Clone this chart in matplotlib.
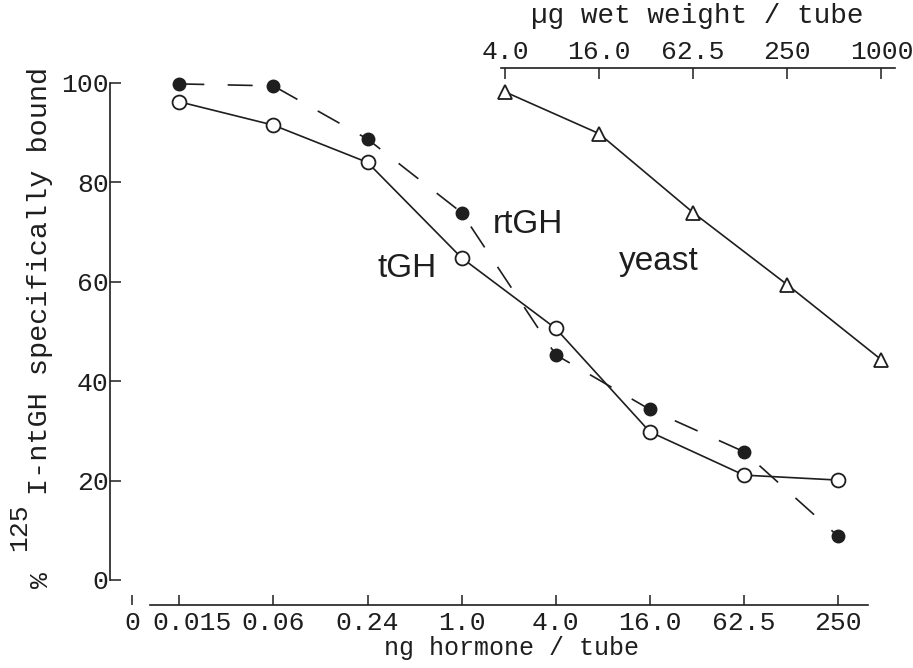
import matplotlib
matplotlib.use('Agg')
import matplotlib.pyplot as plt
import matplotlib.transforms as mtransforms
from matplotlib.ticker import NullLocator

# ---- data ----
dose_ng = [1/64, 1/16, 1/4, 1, 4, 16, 64, 256]
dose_labels = ["0.015", "0.06", "0.24", "1.0", "4.0", "16.0", "62.5", "250"]
rtgh = [99.8, 99.4, 88.7, 73.9, 45.3, 34.3, 25.8, 8.8]
tgh = [96.2, 91.5, 84.0, 64.8, 50.6, 29.8, 21.1, 20.1]
yeast_ug = [4, 16, 64, 256, 1024]
yeast_labels = ["4.0", "16.0", "62.5", "250", "1000"]
yeast = [98.2, 89.8, 73.9, 59.4, 44.3]
yticks = [0, 20, 40, 60, 80, 100]

# ---- style ----
MONO = 'Liberation Mono'
SANS = 'Liberation Sans'
INK = '#1e1e1e'
plt.rcParams['font.family'] = [MONO, 'DejaVu Sans']
FS = 19

W, H = 913, 668
fig = plt.figure(figsize=(W / 100, H / 100), dpi=100)


def fx(x):
    return x / W


def fy(y):
    return 1 - y / H


ax = fig.add_axes([fx(110), fy(605), fx(895) - fx(110), fy(68) - fy(605)])
XLO, XHI = 0.005627, 591.9
K = 2.114  # ug wet weight per ng scale offset
ax.set_xscale('log', base=4)
ax.set_xlim(XLO, XHI)
ax.set_ylim(-5.03, 103.0)

ax2 = ax.twiny()
ax2.set_xscale('log', base=4)
ax2.set_xlim(XLO * K, XHI * K)

for s in ['top', 'right']:
    ax.spines[s].set_visible(False)
for s in ['bottom', 'left', 'right']:
    ax2.spines[s].set_visible(False)
for sp in list(ax.spines.values()) + list(ax2.spines.values()):
    sp.set_color(INK)
    sp.set_linewidth(1.2)
ax.spines['left'].set_bounds(0, 100)
ax.spines['bottom'].set_bounds(0.01014, 397)
ax2.spines['top'].set_bounds(3.75, 1249)

# bottom ticks
ZERO_POS = 0.00777
ax.set_xticks([ZERO_POS] + dose_ng)
ax.set_xticklabels(["0"] + dose_labels)
ax.xaxis.set_minor_locator(NullLocator())
ax.tick_params(axis='x', direction='in', length=7, width=1.1, pad=4,
               labelsize=FS, colors=INK)
# nudge the crowded first label right, as in the original
lbl = ax.get_xticklabels()[1]
lbl.set_transform(lbl.get_transform() +
                  mtransforms.ScaledTranslation(13 / 100, 0, fig.dpi_scale_trans))
# left ticks
ax.set_yticks(yticks)
ax.set_yticklabels([str(v) for v in yticks])
ax.tick_params(axis='y', direction='in', length=8, width=1.1, pad=1,
               labelsize=FS, colors=INK)
# top ticks
ax2.set_xticks(yeast_ug)
ax2.set_xticklabels(yeast_labels)
ax2.xaxis.set_minor_locator(NullLocator())
ax2.tick_params(axis='x', direction='in', length=8, width=1.1, pad=3,
                labelsize=FS, colors=INK)

# ---- series ----
ax.plot(dose_ng, tgh, '-', color=INK, lw=1.2, marker='o', ms=10,
        mfc='white', mec=INK, mew=1.3, clip_on=False, zorder=3)
ax.plot(dose_ng, rtgh, linestyle=(0, (15, 14)), color=INK, lw=1.2,
        marker='o', ms=9, mfc=INK, mec=INK, clip_on=False, zorder=4)
ax2.plot(yeast_ug, yeast, '-', color=INK, lw=1.2, marker='^', ms=10,
         mfc='white', mec=INK, mew=1.3, clip_on=False, zorder=3)

# ---- labels ----
fig.text(fx(512), fy(648), 'ng hormone / tube', ha='center', va='center',
         fontsize=18, color=INK)
fig.text(fx(697), fy(16), '\u00b5g wet weight / tube', ha='center',
         va='center', fontsize=20, color=INK)
fig.text(fx(41), fy(580), '%', rotation=90, ha='center', va='center',
         fontsize=FS, color=INK)
fig.text(fx(19), fy(527), '125', rotation=90, ha='center', va='center',
         fontsize=FS, color=INK)
fig.text(fx(40), fy(281), 'I-ntGH specifically bound', rotation=90,
         ha='center', va='center', fontsize=20.5, color=INK)

fig.text(fx(493), fy(233), 'rtGH', ha='left', va='baseline',
         family=SANS, fontsize=24, color=INK)
fig.text(fx(377), fy(277), 'tGH', ha='left', va='baseline',
         family=SANS, fontsize=24, color=INK)
fig.text(fx(619), fy(270), 'yeast', ha='left', va='baseline',
         family=SANS, fontsize=24, color=INK)

fig.savefig('out.png', dpi=100, facecolor='white')
